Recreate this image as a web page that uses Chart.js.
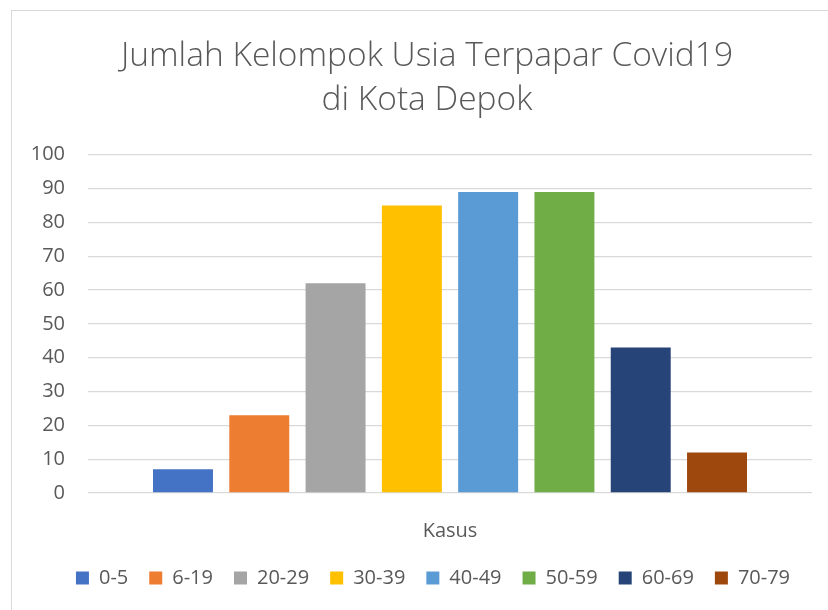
<!DOCTYPE html>
<html>
<head>
    <meta charset="UTF-8">
    <title>Jumlah Kelompok Usia Terpapar Covid19</title>
    <script src="https://cdn.jsdelivr.net/npm/chart.js"></script>
    <style>
        html, body {
            margin: 0;
            padding: 0;
            background: #ffffff;
            overflow: hidden;
        }
        #chart-container {
            position: absolute;
            left: 11px;
            top: 10px;
            width: 833px;
            height: 610px;
            border: 1px solid #d9d9d9;
            background: #ffffff;
        }
        canvas {
            display: block;
        }
    </style>
</head>
<body>
<div id="chart-container">
    <canvas id="chart1" width="833" height="599"></canvas>
</div>

<script>
    // Data
    const kategori = ['Kasus'];
    const kelompokUsia = ['0-5', '6-19', '20-29', '30-39', '40-49', '50-59', '60-69', '70-79'];
    const jumlahKasus = [7, 23, 62, 85, 89, 89, 43, 12];
    const warna = ['#4472C4', '#ED7D31', '#A5A5A5', '#FFC000', '#5B9BD5', '#70AD47', '#264478', '#9E480E'];
    const yTicks = [0, 10, 20, 30, 40, 50, 60, 70, 80, 90, 100];

    const fontFamily = "'Open Sans', 'Noto Sans', sans-serif";
    const textColor = '#595959';

    const datasets = kelompokUsia.map(function(label, i) {
        return {
            label: label,
            data: [jumlahKasus[i]],
            backgroundColor: warna[i],
            borderWidth: 0,
            categoryPercentage: 0.843,
            barPercentage: 0.786
        };
    });

    // title and legend sit centred on the whole chart box, not on the plot area
    const boxShift = {
        id: 'boxShift',
        afterLayout: function(chart) {
            chart.legend.left += 21;
            chart.legend.right += 21;
            chart.titleBlock.left += 15;
            chart.titleBlock.right += 15;
        }
    };

    const ctx1 = document.getElementById('chart1').getContext('2d');

    const config1 = {
        type: 'bar',
        data: {
            labels: kategori,
            datasets: datasets
        },
        options: {
            responsive: false,
            animation: false,
            layout: {
                padding: { left: 0, right: 33, top: 0, bottom: 12 }
            },
            plugins: {
                title: {
                    display: true,
                    text: ['Jumlah Kelompok Usia Terpapar Covid19', 'di Kota Depok'],
                    color: textColor,
                    font: { family: fontFamily, size: 33.5, weight: '300', lineHeight: 1.31 },
                    padding: { top: 24, bottom: 32 }
                },
                legend: {
                    position: 'bottom',
                    labels: {
                        color: textColor,
                        font: { family: fontFamily, size: 20 },
                        boxWidth: 13,
                        boxHeight: 13,
                        padding: 21
                    }
                },
                tooltip: { enabled: false }
            },
            scales: {
                x: {
                    grid: { display: false },
                    border: { display: false },
                    ticks: {
                        color: textColor,
                        font: { family: fontFamily, size: 20 },
                        padding: 18
                    },
                    afterFit: function(scale) {
                        scale.height = 54;
                    }
                },
                y: {
                    min: 0,
                    max: 100,
                    afterBuildTicks: function(scale) {
                        scale.ticks = yTicks.map(function(v) { return { value: v }; });
                    },
                    grid: {
                        color: '#d9d9d9',
                        lineWidth: 1.3,
                        drawTicks: false
                    },
                    border: { display: false },
                    ticks: {
                        color: textColor,
                        font: { family: fontFamily, size: 20 },
                        padding: 23
                    },
                    afterFit: function(scale) {
                        scale.width = 76;
                    }
                }
            }
        },
        plugins: [boxShift]
    };

    const chart1 = new Chart(ctx1, config1);
</script>
</body>
</html>
